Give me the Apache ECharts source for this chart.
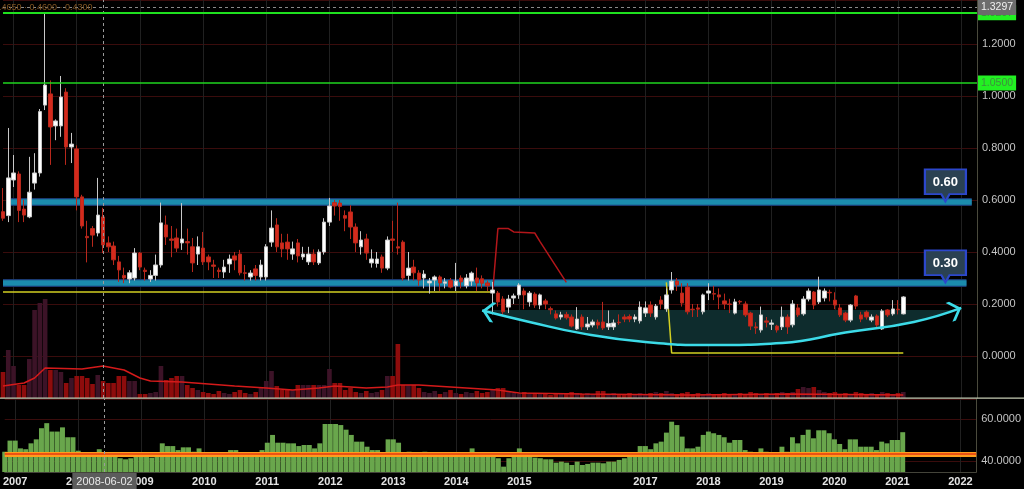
<!DOCTYPE html>
<html><head><meta charset="utf-8">
<script src="https://cdn.jsdelivr.net/npm/echarts@6/dist/echarts.min.js"></script>
<style>html,body{margin:0;padding:0;background:#000;}#c{width:1024px;height:489px;}</style>
</head><body><div id="c"></div>
<script>
// ---------- DATA ----------
const months = [];
for (let k = 0; k < 186; k++) { const m = 10 + k; months.push((2006 + Math.floor(m / 12)) + '-' + String(m % 12 + 1).padStart(2, '0')); }

// monthly candles [open, close, low, high], from 2006-11
const candles = [
[.555,.53,.52,.646],[.54,.685,.515,.877],[.677,.704,.65,.773],[.70,.56,.515,.71],[.565,.542,.515,.60],
[.535,.63,.53,.766],[.665,.704,.64,.78],[.704,.94,.69,.95],[.965,1.042,.946,1.32],[1.008,.881,.735,1.06],
[.885,.904,.83,.91],[.885,.996,.843,1.077],[1.015,.804,.735,1.03],[.804,.815,.742,.858],[.796,.612,.56,.81],
[.612,.50,.49,.62],[.46,.455,.36,.52],[.49,.465,.42,.50],[.473,.542,.46,.685],[.535,.427,.396,.57],
[.435,.42,.40,.46],[.423,.37,.35,.44],[.362,.331,.285,.385],[.31,.30,.28,.34],[.296,.32,.28,.33],
[.30,.396,.29,.415],[.396,.342,.33,.40],[.33,.325,.29,.34],[.296,.31,.285,.33],[.31,.35,.29,.39],
[.35,.512,.34,.59],[.504,.458,.427,.54],[.45,.445,.38,.50],[.454,.415,.40,.49],[.435,.45,.408,.588],
[.44,.435,.39,.49],[.42,.358,.323,.454],[.392,.42,.35,.46],[.415,.362,.35,.477],[.381,.362,.33,.39],
[.35,.345,.30,.37],[.33,.325,.30,.34],[.323,.342,.30,.37],[.354,.373,.32,.39],[.385,.369,.33,.40],
[.392,.32,.31,.408],[.32,.318,.29,.35],[.304,.319,.29,.33],[.335,.31,.29,.35],[.304,.35,.29,.37],
[.304,.42,.29,.43],[.438,.492,.42,.56],[.504,.42,.40,.53],[.435,.412,.38,.47],[.438,.412,.37,.47],
[.392,.412,.37,.44],[.435,.385,.36,.45],[.381,.392,.37,.42],[.362,.392,.35,.42],[.392,.362,.35,.41],
[.358,.40,.35,.41],[.40,.515,.39,.53],[.515,.577,.50,.608],[.59,.577,.54,.60],[.588,.575,.52,.60],
[.54,.53,.48,.56],[.554,.496,.45,.58],[.496,.435,.40,.51],[.42,.446,.39,.48],[.45,.396,.37,.47],
[.358,.373,.34,.41],[.356,.373,.34,.40],[.381,.338,.32,.39],[.338,.446,.33,.46],[.45,.445,.40,.52],
[.42,.415,.39,.59],[.438,.30,.29,.445],[.31,.338,.29,.40],[.342,.32,.29,.37],[.319,.292,.27,.33],
[.30,.315,.26,.33],[.281,.288,.24,.30],[.292,.304,.25,.31],[.304,.281,.25,.31],[.28,.285,.26,.30],
[.29,.265,.26,.30],[.27,.288,.25,.358],[.30,.285,.26,.31],[.27,.30,.26,.315],[.288,.319,.27,.325],
[.30,.281,.25,.34],[.297,.28,.26,.31],[.281,.27,.25,.29],[.242,.254,.16,.285],[.242,.208,.19,.25],
[.219,.17,.155,.23],[.188,.219,.165,.235],[.223,.231,.20,.24],[.235,.273,.22,.28],[.25,.235,.18,.26],
[.208,.242,.19,.25],[.238,.196,.185,.245],[.196,.235,.18,.24],[.212,.20,.18,.22],[.182,.178,.16,.19],
[.162,.146,.14,.175],[.15,.158,.14,.17],[.16,.147,.14,.17],[.15,.115,.11,.16],[.104,.142,.10,.188],
[.15,.112,.10,.16],[.112,.123,.10,.15],[.119,.131,.11,.14],[.13,.119,.105,.14],[.131,.108,.10,.208],
[.112,.125,.10,.175],[.112,.127,.10,.14],[.13,.128,.12,.16],[.15,.142,.13,.16],[.152,.142,.13,.16],
[.142,.15,.13,.16],[.135,.188,.125,.21],[.165,.185,.15,.21],[.196,.165,.15,.21],[.15,.192,.14,.20],
[.215,.20,.18,.23],[.181,.235,.17,.26],[.254,.288,.24,.323],[.288,.273,.25,.30],[.242,.204,.19,.28],
[.265,.17,.16,.28],[.18,.178,.15,.20],[.185,.18,.15,.20],[.17,.235,.16,.24],[.242,.25,.215,.28],
[.24,.238,.215,.27],[.235,.227,.18,.26],[.212,.20,.18,.24],[.20,.198,.165,.22],[.165,.208,.16,.22],
[.21,.208,.20,.215],[.20,.158,.15,.21],[.165,.115,.10,.17],[.112,.108,.085,.13],[.10,.158,.09,.19],
[.135,.13,.11,.15],[.122,.127,.10,.14],[.115,.10,.09,.12],[.112,.15,.10,.19],[.15,.112,.085,.16],
[.12,.20,.11,.215],[.185,.158,.15,.20],[.162,.219,.155,.23],[.219,.25,.21,.26],[.246,.196,.18,.25],
[.208,.254,.20,.305],[.223,.25,.21,.26],[.245,.243,.21,.255],[.215,.196,.18,.245],[.185,.158,.15,.20],
[.165,.138,.13,.17],[.138,.196,.13,.20],[.231,.192,.18,.235],[.158,.142,.13,.17],[.169,.15,.14,.175],
[.138,.15,.13,.16],[.154,.119,.11,.16],[.104,.173,.10,.18],[.177,.158,.15,.18],[.162,.181,.155,.215],
[.18,.178,.16,.215],[.162,.227,.16,.23]
];

// monthly volume (relative units)
const volume = [
26,48,32,13,13,39,88,95,99,28, 28,26,15,20,22,22,20,14,23,17,
15,15,22,22,17,17,4,4,5,6, 32,18,20,22,22,13,10,8,6,5,
4,7,5,4,6,8,5,4,6,10, 17,27,12,8,8,8,13,13,13,13,
13,13,29,15,15,8,10,6,5,7, 5,6,8,22,22,54,13,13,13,10,
6,5,7,4,6,8,5,4,6,5, 7,5,6,8,10,10,6,5,4,6,
5,4,5,4,3,4,5,4,6,5, 4,5,4,7,7,4,5,3,4,5,
4,5,4,5,6,5,7,5,4,5, 6,4,5,4,5,4,3,5,4,4,
5,4,6,5,4,5,4,5,6,5, 6,9,11,10,11,8,6,5,6,4,
5,4,6,5,4,5,4,6,5,4, 5,6
];
// volume moving average read at [monthIndex, value]
const volumeMA = [[0,12],[4,15],[6,20],[8,30],[15,29],[19,32],[23,28],[26,20],[28,17],[34,16],[44,12],[50,10],[55,8],[60,10],[63,12],[69,10],[73,11],[75,13],[79,13],[88,10],[94,8],[98,5],[110,4],[130,3],[150,4],[171,3]];

// oscillator panel
const oscillator = [
44.4,49.7,49.7,46,45.6,48.4,50.3,55.6,58,54,
54,56,51.3,51.3,44.9,43.7,43.7,43.7,45.6,43.7,
43,42.5,41.3,40.8,41.3,42.4,42.8,41.9,41.6,42.8,
48.4,47.1,47.1,45.2,46.5,46.5,44.4,46,43.7,43.5,
43.5,43.5,44,45.2,45.2,44,43.5,43.5,43.5,45.2,
48.7,52.4,48.7,48.7,48.4,48.4,47.1,47.6,47.6,46,
48.4,57.6,57.6,57.6,57.1,54.9,52.4,49.2,49.2,46.8,
45.2,45.2,44,50.3,50.3,48.7,44,44.4,43.7,43.5,
44.4,43.7,43.5,43.5,43.5,43.5,43.5,43.5,43.5,46,
44,43.5,43.5,42.8,41.3,37.3,41.3,42.4,46,43.7,
42.8,41.6,41.3,40.8,40.8,39.2,39.7,39.2,38.1,39.7,
38.1,38.6,39.2,39.2,38.9,39.7,39.7,40.5,41.3,42.8,
42.8,47.1,47.1,45.6,48.4,49.2,53.5,58.7,57.1,51.6,
46,46,46.8,52.4,54,53.2,52.4,51.3,48.7,50,
50,45.2,44.4,42.8,46,44.4,44.2,43.7,46.8,44.4,
51.3,48.4,52.4,54.9,50.8,54.6,54.6,53.2,50.3,48.1,
45.6,50.3,50.3,46.8,46.8,46.8,45.2,49.2,48.4,50,
50,53.7
];
const oscLevel = 43.3;

// trailing stop line pieces [monthIndex, price]
const stopYellowA = [[0,0.246],[93,0.246]];
const stopRed = [[93,0.246],[94,0.49],[96,0.49],[97,0.477],[101,0.473],[102,0.44],[107,0.283]];
const stopYellowB = [[126,0.283],[127,0.012],[171,0.012]];

// drawn annotations
const arcPoints = [[91,0.175],[100,0.131],[110,0.087],[122,0.054],[135,0.042],[148,0.05],[160,0.09],[173,0.131],[182,0.185]];
const arcTop = 0.177;
const supportBands = [{v:0.595, from:1, to:184, label:'0.60'},{v:0.283, from:0, to:183, label:'0.30'}];
const greenLevels = [{v:1.318, label:'1.3297'},{v:1.05, label:'1.0500'}];
const lastPrice = 0.226, lastPriceLabel = '0.2260';
const crossMonth = '2008-06', crossDateLabel = '2008-06-02', crossPrice = 1.337, crossPriceLabel = '1.3297';
const calloutMonth = 179;
const legendText = '0.4650 · 0.4600 · 0.4300';

// ---------- CHART ----------
const FONT = "'Liberation Sans', Arial, sans-serif";
const isYear = (i, v) => typeof v === 'string' ? (v.endsWith('-01') && v !== '2016-01') : (months[i] && months[i].endsWith('-01') && months[i] !== '2016-01');
const chart = echarts.init(document.getElementById('c'), null, {renderer: 'canvas'});

const chevron = 'path://M0,0 L4,0 L14,10 L4,20 L0,20 L10,10 Z M27.9,9.9 L28,9.9 L28,10 Z';
const balloon = 'path://M0,0 L40,0 L40,24 L24,24 L20,31 L16,24 L0,24 Z';

const arcData = arcPoints.map((p, k) => {
  if (k === 0) return {value: p, symbol: chevron, symbolSize: [26, 20], symbolRotate: 170};
  if (k === arcPoints.length - 1) return {value: p, symbol: chevron, symbolSize: [26, 20], symbolRotate: 20};
  return {value: p, symbol: 'none'};
});

const bandLines = [];
supportBands.forEach(b => {
  bandLines.push([{coord: [b.from, b.v], lineStyle: {color: '#1a3a72', width: 8, type: 'solid'}}, {coord: [b.to, b.v]}]);
  bandLines.push([{coord: [b.from, b.v], lineStyle: {color: '#1b8cad', width: 5.5, type: 'solid'}}, {coord: [b.to, b.v]}]);
});

const lblBase = {show: true, position: 'end', distance: 1, fontSize: 10.5, fontFamily: FONT, padding: [2, 3]};

const option = {
  backgroundColor: '#000',
  animation: false,
  textStyle: {fontFamily: FONT},
  grid: [
    {left: 3, right: 47, top: 0, height: 356},
    {left: 3, right: 47, top: 0, height: 398},
    {left: 3, right: 47, top: 399, height: 73}
  ],
  xAxis: [
    {type: 'category', gridIndex: 0, data: months, boundaryGap: false, show: false},
    {type: 'category', gridIndex: 1, data: months, boundaryGap: false, axisLine: {show: false}, axisTick: {show: false}, axisLabel: {show: false},
     splitLine: {show: true, interval: isYear, lineStyle: {color: '#202020', width: 1}}},
    {type: 'category', gridIndex: 2, data: months, boundaryGap: false, axisLine: {show: true, lineStyle: {color: '#44443a'}}, axisTick: {show: false},
     axisLabel: {interval: isYear, formatter: v => v.slice(0, 4), color: '#e4e4e4', fontWeight: 'bold', fontSize: 11, margin: 4},
     splitLine: {show: true, interval: isYear, lineStyle: {color: '#202020', width: 1}}}
  ],
  yAxis: [
    {type: 'value', gridIndex: 0, position: 'right', min: 0, max: 1.3692, interval: 0.2,
     axisLine: {show: true, lineStyle: {color: '#4a4a3c'}}, axisTick: {show: false},
     axisLabel: {formatter: v => v.toFixed(4), color: '#c4c4c4', fontSize: 11, margin: 5, showMaxLabel: false},
     splitLine: {show: true, lineStyle: {color: '#3a0c0c', width: 1}}},
    {type: 'value', gridIndex: 1, position: 'right', min: 0, max: 398, axisLine: {show: true, lineStyle: {color: '#4a4a3c'}},
     axisTick: {show: false}, axisLabel: {show: false}, splitLine: {show: false}},
    {type: 'value', gridIndex: 2, position: 'right', min: 34.76, max: 69.5, splitNumber: 2,
     axisLine: {show: true, lineStyle: {color: '#4a4a3c'}}, axisTick: {show: false},
     axisLabel: {formatter: v => v.toFixed(4), color: '#c4c4c4', fontSize: 11, margin: 5, showMinLabel: false, showMaxLabel: false},
     splitLine: {show: true, lineStyle: {color: '#3a0c0c', width: 1}}}
  ],
  series: [
    // volume
    {type: 'bar', name: 'volume', xAxisIndex: 1, yAxisIndex: 1, z: 0, barCategoryGap: '12%',
     data: volume.map((v, i) => ({value: v, itemStyle: {color: candles[i][1] < candles[i][0] ? '#8e0c0c' : '#3c1327'}})),
     markLine: {symbol: ['none', 'none'], silent: true, label: {show: false},
       data: [{xAxis: crossMonth, lineStyle: {color: '#9a9a9a', type: [3, 3], width: 1}}]}},
    {type: 'line', name: 'volMA', xAxisIndex: 1, yAxisIndex: 1, z: 1, data: volumeMA, symbol: 'none',
     lineStyle: {color: '#d41a1a', width: 1.5}},
    // arc fill
    {type: 'line', name: 'arcFill', xAxisIndex: 0, yAxisIndex: 0, z: 1, data: arcPoints, smooth: 0.5, symbol: 'none',
     lineStyle: {width: 0, opacity: 0}, areaStyle: {color: '#0e2c2d', opacity: 1, origin: arcTop},
     markLine: {z: 1, symbol: ['none', 'none'], silent: true, label: {show: false}, lineStyle: {type: 'solid'}, data: bandLines}},
    // stop lines
    {type: 'line', xAxisIndex: 0, yAxisIndex: 0, z: 1, data: stopRed, symbol: 'none', lineStyle: {color: '#b3161a', width: 1.5}},
    {type: 'line', xAxisIndex: 0, yAxisIndex: 0, z: 2, data: stopYellowA, symbol: 'none', lineStyle: {color: '#d2cf22', width: 1.5}},
    {type: 'line', xAxisIndex: 0, yAxisIndex: 0, z: 2, data: stopYellowB, symbol: 'none', lineStyle: {color: '#d2cf22', width: 1.5}},
    // candles
    {type: 'candlestick', name: 'price', xAxisIndex: 0, yAxisIndex: 0, z: 3, data: candles, barWidth: 4, clip: false,
     itemStyle: {color: '#ffffff', color0: '#d42a1c', borderColor: '#c8c8c8', borderColor0: '#b8281c', borderWidth: 1},
     markLine: {symbol: ['none', 'none'], silent: true, data: [
       {yAxis: greenLevels[0].v, lineStyle: {color: '#1fe01f', width: 2, type: 'solid'},
        label: Object.assign({}, lblBase, {formatter: greenLevels[0].label, backgroundColor: '#22f022', color: '#3a8a3a'})},
       {yAxis: greenLevels[1].v, lineStyle: {color: '#1fd41f', width: 1.5, type: 'solid'},
        label: Object.assign({}, lblBase, {formatter: greenLevels[1].label, backgroundColor: '#22f022', color: '#3f8f3f'})},
       {yAxis: lastPrice, lineStyle: {opacity: 0},
        label: Object.assign({}, lblBase, {formatter: lastPriceLabel, backgroundColor: '#f4f4f4', color: '#7a7a7a'})},
       {yAxis: crossPrice, lineStyle: {color: '#8a8a8a', width: 1, type: [3, 3]},
        label: Object.assign({}, lblBase, {formatter: crossPriceLabel, backgroundColor: '#6c6c6c', color: '#f0f0f0'})}
     ]},
     markPoint: {silent: true, symbol: balloon, symbolSize: [41, 32], symbolOffset: [0, '-50%'],
       itemStyle: {color: '#2a4152', borderColor: '#2c47cc', borderWidth: 2},
       label: {show: true, position: 'inside', offset: [0, -3], color: '#ffffff', fontWeight: 'bold', fontSize: 13, fontFamily: FONT, formatter: p => p.name},
       data: supportBands.map(b => ({name: b.label, coord: [calloutMonth, b.v]}))}},
    // arc line with arrowheads
    {type: 'line', name: 'arc', xAxisIndex: 0, yAxisIndex: 0, z: 5, data: arcData, smooth: 0.5, showSymbol: true, showAllSymbol: true,
     symbol: 'none', lineStyle: {color: '#3cdbe8', width: 2.5}, itemStyle: {color: '#3cdbe8'}},
    // oscillator bars
    {type: 'bar', name: 'osc', xAxisIndex: 2, yAxisIndex: 2, z: 2, data: oscillator, barCategoryGap: '6%',
     itemStyle: {color: '#69a64c'},
     markLine: {symbol: ['none', 'none'], silent: true, data: [
       {yAxis: oscLevel, lineStyle: {color: '#ff9c1c', width: 5, type: 'solid'}, label: {show: false}},
       {yAxis: oscLevel, lineStyle: {color: '#e43a12', width: 1.5, type: 'solid'}, label: {show: false}},
       {xAxis: crossMonth, lineStyle: {color: '#9a9a9a', type: [3, 3], width: 1},
        label: {show: true, position: 'start', distance: 1, formatter: crossDateLabel, backgroundColor: '#5c5c5c', color: '#e8e8e8', fontSize: 11, padding: [3, 4], fontFamily: FONT}}
     ]}}
  ],
  graphic: [
    {type: 'rect', silent: true, z: 100, shape: {x: 0, y: 397.5, width: 1024, height: 1.3}, style: {fill: '#c6ccb4'}},
    {type: 'text', silent: true, z: 100, left: -6, top: 3, style: {text: legendText, fill: '#7e5320', font: '9px ' + FONT}}
  ]
};
chart.setOption(option);
</script></body></html>
